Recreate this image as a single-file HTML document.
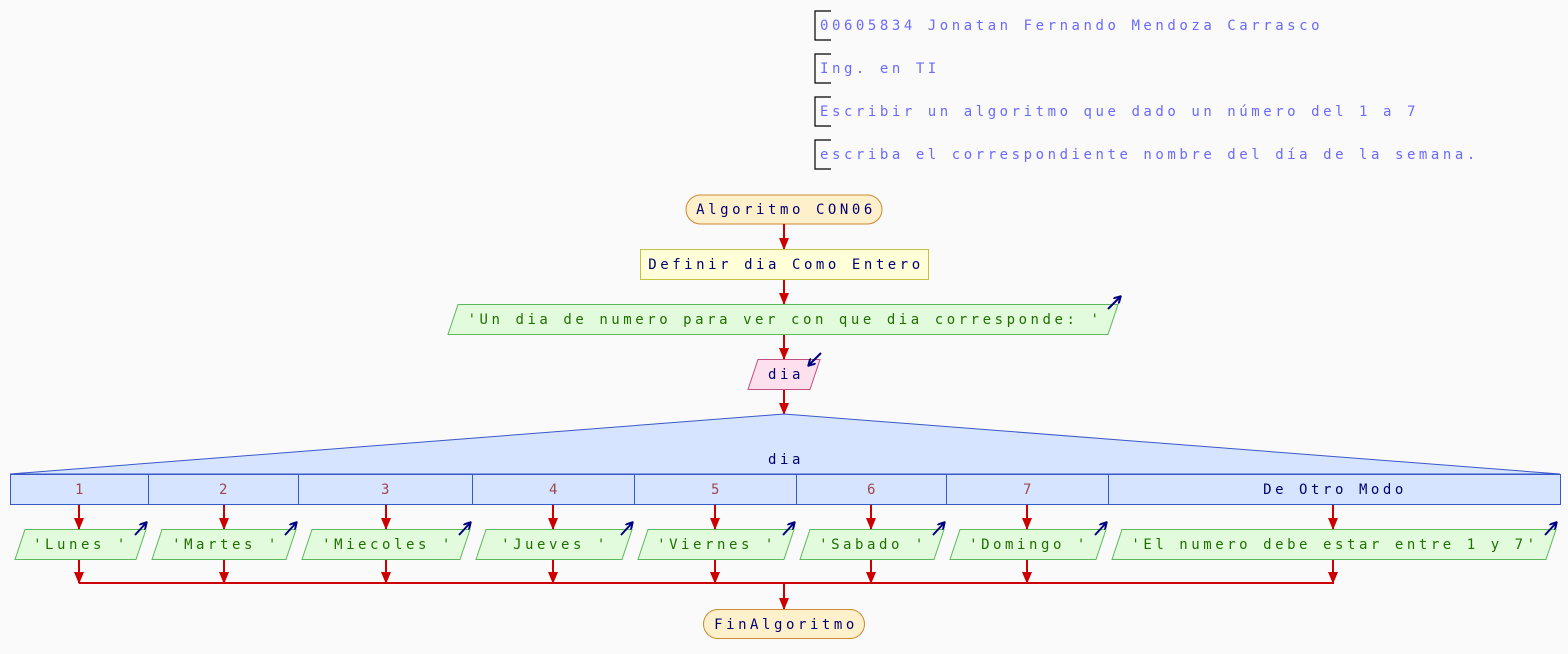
<!DOCTYPE html>
<html><head><meta charset="utf-8"><style>
html,body{margin:0;padding:0;background:#fafafa;}
svg{display:block;}
text{font-family:"DejaVu Sans Mono","Liberation Mono",monospace;font-size:14px;letter-spacing:3.55px;}
.c{fill:#6a6aff;}
.k{fill:#000070;}
.g{fill:#207000;}
.n{fill:#a04848;}
.a{stroke:#cc0000;stroke-width:2;fill:none;}
.io{fill:#e2fbdc;stroke:#5cb85c;stroke-width:1;}
.ic{stroke:#000080;stroke-width:2;fill:none;}
</style></head><body>
<svg width="1568" height="654" viewBox="0 0 1568 654" xmlns="http://www.w3.org/2000/svg">
<defs>
<marker id="ah" markerWidth="12" markerHeight="10" refX="11" refY="5" orient="auto" markerUnits="userSpaceOnUse"><path d="M0,0 L12,5 L0,10 z" fill="#cc0000"/></marker>
<marker id="ih" markerWidth="8" markerHeight="8" refX="6" refY="4" orient="auto" markerUnits="userSpaceOnUse"><path d="M0,0 L7,4 L0,8" fill="none" stroke="#000080" stroke-width="2"/></marker>
</defs>
<g stroke="#000" stroke-width="1.2" fill="none">
<path d="M831,11 H815 V40 H831"/>
<path d="M831,54 H815 V83 H831"/>
<path d="M831,97 H815 V126 H831"/>
<path d="M831,140 H815 V169 H831"/>
</g>
<text class="c" x="820" y="30">00605834 Jonatan Fernando Mendoza Carrasco</text>
<text class="c" x="820" y="73">Ing. en TI</text>
<text class="c" x="820" y="116">Escribir un algoritmo que dado un número del 1 a 7</text>
<text class="c" x="820" y="159">escriba el correspondiente nombre del día de la semana.</text>

<rect x="686" y="195" width="196" height="29" rx="14.5" fill="#fff0cc" stroke="#cc8833"/>
<text class="k" x="786" y="214" text-anchor="middle">Algoritmo CON06</text>
<line class="a" x1="784" y1="224" x2="784" y2="249" marker-end="url(#ah)"/>
<rect x="640.5" y="249.5" width="288" height="30" fill="#ffffd8" stroke="#c8c040"/>
<text class="k" x="786" y="269" text-anchor="middle">Definir dia Como Entero</text>
<line class="a" x1="784" y1="280" x2="784" y2="304" marker-end="url(#ah)"/>
<path class="io" d="M458,304.5 H1118 L1108,334.5 H448 Z"/>
<text class="g" x="785" y="324" text-anchor="middle">'Un dia de numero para ver con que dia corresponde: '</text>
<line class="ic" x1="1108" y1="309" x2="1120" y2="297" marker-end="url(#ih)"/>
<line class="a" x1="784" y1="335" x2="784" y2="359" marker-end="url(#ah)"/>
<path d="M758,359.5 H820 L810,389.5 H748 Z" fill="#fde0ee" stroke="#c05080"/>
<text class="k" x="786" y="379" text-anchor="middle">dia</text>
<line class="ic" x1="821" y1="353" x2="809" y2="365" marker-end="url(#ih)"/>
<line class="a" x1="784" y1="390" x2="784" y2="414" marker-end="url(#ah)"/>

<path d="M10,474 L784,414 L1560,474 Z" fill="#d6e4ff" stroke="#3a58c8"/>
<rect x="10.5" y="474.5" width="1550" height="30" fill="#d6e4ff" stroke="#3a58c8"/>
<g stroke="#3a58c8"><line x1="148.5" y1="474" x2="148.5" y2="505"/><line x1="298.5" y1="474" x2="298.5" y2="505"/><line x1="472.5" y1="474" x2="472.5" y2="505"/><line x1="634.5" y1="474" x2="634.5" y2="505"/><line x1="796.5" y1="474" x2="796.5" y2="505"/><line x1="946.5" y1="474" x2="946.5" y2="505"/><line x1="1108.5" y1="474" x2="1108.5" y2="505"/></g>
<text class="k" x="786" y="464" text-anchor="middle">dia</text>
<text class="n" x="81" y="494" text-anchor="middle">1</text>
<text class="n" x="225" y="494" text-anchor="middle">2</text>
<text class="n" x="387" y="494" text-anchor="middle">3</text>
<text class="n" x="555" y="494" text-anchor="middle">4</text>
<text class="n" x="717" y="494" text-anchor="middle">5</text>
<text class="n" x="873" y="494" text-anchor="middle">6</text>
<text class="n" x="1029" y="494" text-anchor="middle">7</text>
<text class="k" x="1335" y="494" text-anchor="middle">De Otro Modo</text>

<g>
<line class="a" x1="79" y1="505" x2="79" y2="529" marker-end="url(#ah)"/>
<line class="a" x1="224" y1="505" x2="224" y2="529" marker-end="url(#ah)"/>
<line class="a" x1="386" y1="505" x2="386" y2="529" marker-end="url(#ah)"/>
<line class="a" x1="553" y1="505" x2="553" y2="529" marker-end="url(#ah)"/>
<line class="a" x1="715" y1="505" x2="715" y2="529" marker-end="url(#ah)"/>
<line class="a" x1="871" y1="505" x2="871" y2="529" marker-end="url(#ah)"/>
<line class="a" x1="1027" y1="505" x2="1027" y2="529" marker-end="url(#ah)"/>
<line class="a" x1="1333" y1="505" x2="1333" y2="529" marker-end="url(#ah)"/>
</g>

<path class="io" d="M25,529.5 H146 L136,559.5 H15 Z"/>
<path class="io" d="M162,529.5 H296 L286,559.5 H152 Z"/>
<path class="io" d="M312,529.5 H470 L460,559.5 H302 Z"/>
<path class="io" d="M486,529.5 H632 L622,559.5 H476 Z"/>
<path class="io" d="M648,529.5 H794 L784,559.5 H638 Z"/>
<path class="io" d="M810,529.5 H944 L934,559.5 H800 Z"/>
<path class="io" d="M960,529.5 H1106 L1096,559.5 H950 Z"/>
<path class="io" d="M1122,529.5 H1556 L1546,559.5 H1112 Z"/>
<text class="g" x="81" y="549" text-anchor="middle">'Lunes '</text>
<text class="g" x="226" y="549" text-anchor="middle">'Martes '</text>
<text class="g" x="388" y="549" text-anchor="middle">'Miecoles '</text>
<text class="g" x="555" y="549" text-anchor="middle">'Jueves  '</text>
<text class="g" x="717" y="549" text-anchor="middle">'Viernes '</text>
<text class="g" x="873" y="549" text-anchor="middle">'Sabado '</text>
<text class="g" x="1029" y="549" text-anchor="middle">'Domingo '</text>
<text class="g" x="1335" y="549" text-anchor="middle">'El numero debe estar entre 1 y 7'</text>
<g>
<line class="ic" x1="135" y1="535" x2="146" y2="523" marker-end="url(#ih)"/>
<line class="ic" x1="285" y1="535" x2="296" y2="523" marker-end="url(#ih)"/>
<line class="ic" x1="459" y1="535" x2="470" y2="523" marker-end="url(#ih)"/>
<line class="ic" x1="621" y1="535" x2="632" y2="523" marker-end="url(#ih)"/>
<line class="ic" x1="783" y1="535" x2="794" y2="523" marker-end="url(#ih)"/>
<line class="ic" x1="933" y1="535" x2="944" y2="523" marker-end="url(#ih)"/>
<line class="ic" x1="1095" y1="535" x2="1106" y2="523" marker-end="url(#ih)"/>
<line class="ic" x1="1545" y1="535" x2="1556" y2="523" marker-end="url(#ih)"/>
</g>

<g>
<line class="a" x1="79" y1="560" x2="79" y2="583" marker-end="url(#ah)"/>
<line class="a" x1="224" y1="560" x2="224" y2="583" marker-end="url(#ah)"/>
<line class="a" x1="386" y1="560" x2="386" y2="583" marker-end="url(#ah)"/>
<line class="a" x1="553" y1="560" x2="553" y2="583" marker-end="url(#ah)"/>
<line class="a" x1="715" y1="560" x2="715" y2="583" marker-end="url(#ah)"/>
<line class="a" x1="871" y1="560" x2="871" y2="583" marker-end="url(#ah)"/>
<line class="a" x1="1027" y1="560" x2="1027" y2="583" marker-end="url(#ah)"/>
<line class="a" x1="1333" y1="560" x2="1333" y2="583" marker-end="url(#ah)"/>
</g>
<line class="a" x1="79" y1="583" x2="1334" y2="583"/>
<line class="a" x1="784" y1="583" x2="784" y2="609" marker-end="url(#ah)"/>
<rect x="703.5" y="609.5" width="161" height="29" rx="14.5" fill="#fff0cc" stroke="#cc8833"/>
<text class="k" x="786" y="629" text-anchor="middle">FinAlgoritmo</text>
</svg>
</body></html>
